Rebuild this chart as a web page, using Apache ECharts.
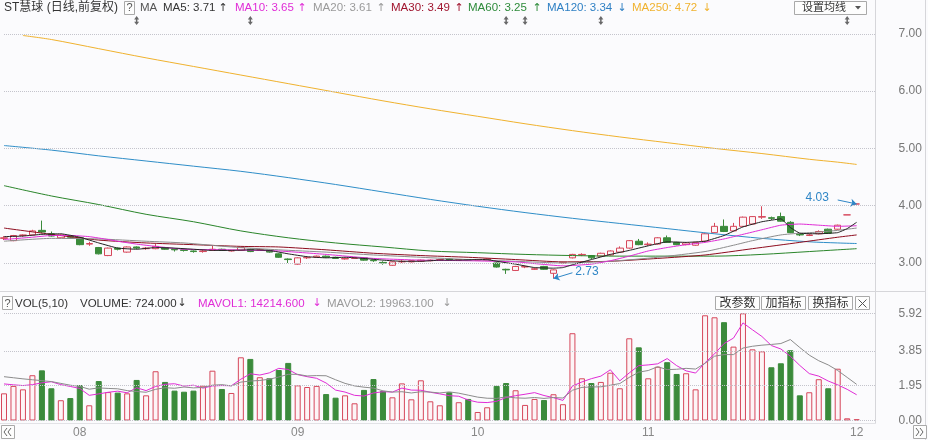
<!DOCTYPE html>
<html>
<head>
<meta charset="utf-8">
<script src="https://cdn.jsdelivr.net/npm/echarts@6/dist/echarts.min.js"></script>
<style>
  html, body { margin: 0; padding: 0; background: #fbfbfd; }
  #chart { width: 928px; height: 440px; }
</style>
</head>
<body>
<div id="chart"></div>
<script>
// ---- trading calendar (2018) ----
const tradingDays = {
  '2018-07': [20, 23, 24, 25, 26, 27, 30, 31],
  '2018-08': [1, 2, 3, 6, 7, 8, 9, 10, 13, 14, 15, 16, 17, 20, 21, 22, 23, 24, 27, 28, 29, 30, 31],
  '2018-09': [3, 4, 5, 6, 7, 10, 11, 12, 13, 14, 17, 18, 19, 20, 21, 25, 26, 27, 28],
  '2018-10': [8, 9, 10, 11, 12, 15, 16, 17, 18, 19, 22, 23, 24, 25, 26, 29, 30, 31],
  '2018-11': [1, 2, 5, 6, 7, 8, 9, 12, 13, 14, 15, 16, 19, 20, 21, 22, 23, 26, 27, 28, 29, 30],
  '2018-12': [3]
};

// ---- daily candles: [open, close, low, high] ----
const candles = [
  [3.43,3.44,3.40,3.47],[3.39,3.48,3.38,3.49],[3.48,3.49,3.46,3.50],[3.49,3.56,3.48,3.58],[3.57,3.54,3.52,3.74],
  [3.51,3.47,3.46,3.55],[3.44,3.49,3.43,3.50],[3.48,3.45,3.44,3.49],[3.44,3.32,3.31,3.45],[3.33,3.34,3.30,3.37],
  [3.27,3.16,3.15,3.28],[3.13,3.26,3.12,3.27],[3.26,3.24,3.22,3.27],[3.19,3.28,3.18,3.29],[3.28,3.26,3.24,3.29],
  [3.25,3.26,3.23,3.28],[3.25,3.29,3.24,3.33],[3.27,3.24,3.23,3.28],[3.24,3.23,3.20,3.25],[3.23,3.22,3.20,3.24],
  [3.21,3.20,3.18,3.22],[3.20,3.21,3.18,3.23],[3.22,3.24,3.21,3.30],[3.24,3.22,3.21,3.25],[3.21,3.22,3.20,3.23],
  [3.22,3.27,3.21,3.28],[3.24,3.20,3.19,3.25],[3.22,3.23,3.21,3.25],[3.22,3.19,3.18,3.23],[3.16,3.10,3.09,3.17],
  [3.07,3.06,3.00,3.08],[2.98,3.09,2.97,3.10],[3.09,3.10,3.07,3.12],[3.10,3.12,3.09,3.13],[3.12,3.10,3.09,3.13],
  [3.10,3.08,3.07,3.11],[3.07,3.08,3.06,3.09],[3.08,3.09,3.07,3.10],[3.09,3.05,3.04,3.10],[3.05,3.04,3.02,3.06],
  [3.01,3.00,2.97,3.03],[2.96,3.02,2.95,3.03],[3.02,3.03,3.00,3.05],[3.02,3.04,3.01,3.05],[3.03,3.05,3.02,3.06],
  [3.04,3.05,3.03,3.06],[3.05,3.06,3.04,3.07],[3.07,3.05,3.04,3.08],[3.05,3.06,3.04,3.07],[3.06,3.05,3.04,3.07],
  [3.05,3.06,3.04,3.07],[3.05,3.07,3.04,3.08],[3.00,2.93,2.92,3.01],[2.89,2.88,2.81,2.90],[2.87,2.94,2.86,2.95],
  [2.93,2.94,2.91,2.95],[2.89,2.90,2.88,2.92],[2.94,2.89,2.88,2.95],[2.82,2.88,2.73,2.89],[3.00,3.01,2.98,3.02],
  [3.09,3.15,3.08,3.16],[3.14,3.15,3.12,3.17],[3.13,3.09,3.07,3.14],[3.12,3.17,3.11,3.18],[3.14,3.21,3.13,3.22],
  [3.19,3.26,3.18,3.29],[3.26,3.39,3.25,3.40],[3.38,3.32,3.31,3.42],[3.32,3.33,3.30,3.36],[3.33,3.44,3.32,3.45],
  [3.44,3.36,3.35,3.48],[3.36,3.32,3.31,3.37],[3.32,3.35,3.31,3.36],[3.31,3.36,3.30,3.37],[3.38,3.51,3.37,3.52],
  [3.53,3.64,3.52,3.70],[3.64,3.55,3.54,3.76],[3.56,3.64,3.55,3.70],[3.64,3.80,3.63,3.81],[3.68,3.81,3.67,3.82],
  [3.80,3.81,3.77,3.99],[3.79,3.78,3.75,3.81],[3.81,3.73,3.72,3.88],[3.71,3.53,3.52,3.73],[3.50,3.49,3.47,3.51],
  [3.48,3.49,3.47,3.51],[3.51,3.55,3.50,3.57],[3.59,3.52,3.51,3.60],[3.59,3.66,3.58,3.67],[3.84,3.84,3.84,3.84],
  [4.03,4.03,4.03,4.03]
];

// ---- daily volume, in units of 10,000 lots ----
const volumes = [
  1.50,1.91,1.72,2.50,2.77,1.78,1.12,1.24,1.96,0.84,
  2.18,1.57,1.54,1.50,2.24,1.39,2.72,2.13,1.65,1.59,
  1.65,1.92,2.75,1.74,1.52,3.49,3.40,2.39,2.33,2.79,
  3.18,1.94,1.85,1.91,1.46,1.26,1.39,0.95,1.69,2.29,
  1.63,1.28,2.05,1.17,2.22,1.06,0.84,1.56,1.01,1.19,
  0.47,0.73,1.91,2.07,1.67,0.86,1.19,1.13,1.45,0.90,
  4.82,2.33,2.07,2.13,2.64,1.78,4.54,4.04,2.33,2.97,
  3.22,2.57,2.61,1.72,5.81,5.70,5.43,4.08,5.92,3.93,
  3.82,2.94,3.16,3.88,1.39,1.56,2.28,1.78,2.86,0.12,
  0.0724
];

// ---- volume moving averages (5 and 10 day) ----
const mavol1 = [
  2.02,1.97,1.93,1.98,2.08,2.14,1.98,1.88,1.77,1.39,
  1.47,1.56,1.62,1.53,1.81,1.65,1.88,2.00,2.03,1.90,
  1.95,1.79,1.91,1.93,1.92,2.28,2.58,2.51,2.63,2.88,
  2.82,2.53,2.42,2.33,2.07,1.68,1.57,1.39,1.35,1.52,
  1.59,1.57,1.79,1.68,1.67,1.56,1.47,1.37,1.34,1.13,
  1.01,0.99,1.06,1.27,1.37,1.45,1.54,1.38,1.26,1.11,
  1.90,2.13,2.31,2.45,2.80,2.19,2.63,3.03,3.07,3.13,
  3.42,3.03,2.74,2.62,3.19,3.68,4.25,4.55,5.39,5.01,
  4.64,4.14,3.95,3.55,3.04,2.59,2.45,2.18,1.97,1.72,
  1.42146
];
const mavol2 = [
  2.42,2.36,2.30,2.25,2.20,2.15,2.05,1.95,1.88,1.73,
  1.80,1.77,1.75,1.65,1.60,1.56,1.72,1.81,1.78,1.85,
  1.80,1.83,1.95,1.98,1.91,2.12,2.18,2.21,2.28,2.40,
  2.55,2.55,2.46,2.48,2.47,2.25,2.05,1.91,1.84,1.79,
  1.64,1.57,1.59,1.52,1.59,1.57,1.52,1.58,1.51,1.40,
  1.29,1.23,1.22,1.31,1.25,1.23,1.27,1.22,1.27,1.24,
  1.67,1.83,1.85,1.86,1.95,2.04,2.38,2.67,2.76,2.97,
  2.81,2.83,2.88,2.84,3.16,3.55,3.64,3.64,4.00,4.10,
  4.16,4.20,4.25,4.47,4.03,3.61,3.30,3.07,2.76,2.38,
  1.99631
];

// ---- price moving averages: [day index, value] ----
const ma5Pts = [[0,3.46],[2,3.47],[4,3.50],[6,3.51],[8,3.45],[10,3.35],[12,3.26],[14,3.24],[16,3.27],[18,3.26],
  [20,3.24],[22,3.22],[24,3.22],[26,3.23],[28,3.22],[30,3.16],[32,3.11],[34,3.09],[36,3.10],[38,3.08],
  [40,3.05],[42,3.03],[44,3.03],[46,3.05],[48,3.05],[50,3.06],[51,3.06],[52,3.03],[54,2.98],[56,2.92],
  [58,2.91],[59,2.92],[60,2.97],[62,3.06],[64,3.15],[66,3.22],[68,3.30],[70,3.37],[72,3.36],[74,3.38],
  [76,3.48],[78,3.63],[80,3.72],[82,3.77],[83,3.62],[84,3.52],[86,3.51],[88,3.53],[89,3.60],[90,3.71]];
const ma10Pts = [[0,3.41],[3,3.45],[5,3.48],[7,3.48],[9,3.46],[11,3.41],[12,3.38],[14,3.33],[16,3.29],[19,3.24],
  [24,3.23],[29,3.21],[34,3.15],[39,3.08],[44,3.05],[49,3.04],[54,3.02],[56,2.99],[59,2.95],[62,2.98],
  [64,3.04],[66,3.12],[68,3.21],[70,3.27],[72,3.32],[74,3.36],[76,3.42],[78,3.50],[80,3.58],[82,3.66],
  [84,3.68],[86,3.66],[88,3.64],[90,3.65]];
const ma20Pts = [[0,3.38],[5,3.43],[10,3.42],[15,3.38],[19,3.35],[24,3.28],[29,3.23],[34,3.19],[39,3.14],[44,3.10],
  [49,3.06],[54,3.03],[59,3.00],[64,3.03],[69,3.10],[74,3.20],[77,3.31],[79,3.39],[82,3.49],[84,3.52],
  [86,3.54],[88,3.57],[90,3.61]];
const ma30Pts = [[0,3.61],[5,3.50],[10,3.40],[15,3.35],[20,3.32],[25,3.29],[29,3.28],[34,3.23],[39,3.17],[44,3.13],
  [49,3.10],[54,3.06],[59,3.02],[64,3.03],[69,3.08],[74,3.14],[79,3.25],[84,3.36],[88,3.45],[90,3.49]];
const ma60Pts = [[0,4.35],[5,4.17],[10,4.02],[15,3.85],[20,3.72],[25,3.56],[30,3.44],[35,3.35],[40,3.28],[45,3.21],
  [50,3.18],[55,3.15],[60,3.13],[65,3.12],[70,3.12],[75,3.12],[80,3.15],[85,3.20],[88,3.23],[90,3.25]];
const ma120Pts = [[0,5.05],[5,4.97],[10,4.87],[15,4.78],[20,4.69],[25,4.60],[30,4.49],[35,4.37],[40,4.24],[45,4.11],
  [50,3.99],[55,3.88],[60,3.78],[65,3.69],[70,3.60],[75,3.51],[80,3.43],[85,3.37],[88,3.35],[90,3.34]];
const ma250Pts = [[2,6.97],[5,6.90],[10,6.74],[15,6.58],[20,6.43],[25,6.28],[30,6.13],[35,5.98],[40,5.83],[45,5.69],
  [50,5.56],[55,5.43],[60,5.31],[65,5.20],[70,5.10],[75,5.00],[80,4.91],[85,4.81],[88,4.76],[90,4.72]];

// ---- axis ticks ----
const priceTicks = [3, 4, 5, 6, 7];
const volumeTicks = [0, 1.95, 3.85, 5.92];

// ---- dates flagged with event markers ----
const eventDates = ['2018-08-09', '2018-08-27', '2018-10-11', '2018-10-15', '2018-10-25', '2018-11-30'];

// ---------------------------------------------------------------------
const FONT = '"Liberation Sans", "Noto Sans CJK SC", sans-serif';
const ARROW_FONT = '"DejaVu Sans", sans-serif';
const RISE = '#d6475b', RISE_FILL = '#fdf4f6', FALL = '#3b8b3b';

const dates = [];
Object.keys(tradingDays).forEach(m => tradingDays[m].forEach(d => dates.push(m + '-' + String(d).padStart(2, '0'))));
const categories = dates.concat(['pad-a', 'pad-b']);

const last = a => a[a.length - 1];
const prev = a => a[a.length - 2];
const lastVal = pts => last(pts)[1];
const trendOf = (a, b) => (a >= b ? '↑' : '↓');

// extremes of the visible range
let hiIdx = 0, loIdx = 0;
candles.forEach((c, i) => {
  if (c[3] > candles[hiIdx][3]) hiIdx = i;
  if (c[2] < candles[loIdx][2]) loIdx = i;
});
const hiVal = candles[hiIdx][3], loVal = candles[loIdx][2];

const chart = echarts.init(document.getElementById('chart'), null, { renderer: 'canvas' });

function maSeries(name, pts, color, smooth) {
  return {
    name, type: 'line', xAxisIndex: 0, yAxisIndex: 0, data: pts,
    symbol: 'none', smooth, z: 3, silent: true,
    lineStyle: { color, width: 1 }
  };
}

function gridLines(ticks) {
  return {
    silent: true, symbol: 'none', animation: false,
    lineStyle: { type: 'dotted', color: '#c4c4cc', width: 1 },
    label: {
      position: 'end', distance: 23, color: '#777', fontSize: 12, fontFamily: FONT,
      formatter: p => Number(p.value).toFixed(2)
    },
    data: ticks.map(v => ({ yAxis: v }))
  };
}

const arrowLabel = {
  color: '#2f86c6', fontSize: 12, fontFamily: FONT
};

// ---- interface decorations (legend rows, buttons, frame) ----
const ui = [];
function txt(x, y, text, color, opt = {}) {
  ui.push({
    type: 'text', x, y, silent: true,
    style: {
      text, fill: color,
      font: `${opt.size || 11.5}px ${opt.family || FONT}`,
      align: opt.align || 'left', verticalAlign: 'middle'
    }
  });
}
function box(x, y, w, h) {
  ui.push({ type: 'rect', silent: true, shape: { x, y, width: w, height: h },
    style: { fill: '#fdfdfd', stroke: '#a9a9a9', lineWidth: 1 } });
}
function line(x1, y1, x2, y2, color) {
  ui.push({ type: 'line', silent: true, shape: { x1, y1, x2, y2 }, style: { stroke: color, lineWidth: 1 } });
}

// frame
line(875.5, 0, 875.5, 424, '#d6d6da');
line(925.5, 0, 925.5, 440, '#d6d6da');
line(0, 291.5, 926, 291.5, '#d6d6da');
line(0, 423.5, 876, 423.5, '#e2e2e6');

// price legend row
const topY = 8;
txt(4, topY, 'ST慧球 (日线,前复权)', '#333', { size: 12 });
box(124.5, 1.5, 10, 13); txt(129.5, topY, '?', '#555', { align: 'center', size: 11 });
txt(140, topY, 'MA', '#555');
const maLegend = [
  { x: 163, ax: 223, name: 'MA5', pts: ma5Pts, color: '#333' },
  { x: 235, ax: 302, name: 'MA10', pts: ma10Pts, color: '#e02cd6' },
  { x: 313, ax: 381, name: 'MA20', pts: ma20Pts, color: '#9a9a9a' },
  { x: 391, ax: 459, name: 'MA30', pts: ma30Pts, color: '#a0142e' },
  { x: 468, ax: 537, name: 'MA60', pts: ma60Pts, color: '#2d8b3a' },
  { x: 547, ax: 622, name: 'MA120', pts: ma120Pts, color: '#2f80c4' },
  { x: 632, ax: 707, name: 'MA250', pts: ma250Pts, color: '#f0b22e' }
];
maLegend.forEach(m => {
  txt(m.x, topY, `${m.name}: ${lastVal(m.pts).toFixed(2)}`, m.color);
  txt(m.ax, topY, trendOf(last(m.pts)[1], prev(m.pts)[1]), m.color, { align: 'center', size: 11, family: ARROW_FONT });
});
box(794.5, 1.5, 72, 13);
txt(802, topY, '设置均线', '#333', { size: 11 });
ui.push({ type: 'polygon', silent: true, shape: { points: [[855, 6], [861, 6], [858, 9.5]] }, style: { fill: '#555' } });

// volume legend row
const volY = 303.5;
box(2.5, 296.5, 10, 13); txt(7.5, volY, '?', '#555', { align: 'center', size: 11 });
txt(15, volY, 'VOL(5,10)', '#333');
txt(80, volY, `VOLUME: ${(last(volumes) * 10000).toFixed(3)}`, '#333');
txt(182, volY, trendOf(last(volumes), prev(volumes)), '#333', { align: 'center', size: 11, family: ARROW_FONT });
txt(198, volY, `MAVOL1: ${(last(mavol1) * 10000).toFixed(3)}`, '#e02cd6');
txt(317, volY, trendOf(last(mavol1), prev(mavol1)), '#e02cd6', { align: 'center', size: 11, family: ARROW_FONT });
txt(327, volY, `MAVOL2: ${(last(mavol2) * 10000).toFixed(3)}`, '#9a9a9a');
txt(447, volY, trendOf(last(mavol2), prev(mavol2)), '#9a9a9a', { align: 'center', size: 11, family: ARROW_FONT });
[['改参数', 715.5], ['加指标', 761.5], ['换指标', 808.5]].forEach(([t, x]) => {
  box(x, 296.5, 44, 13);
  txt(x + 22, volY, t, '#333', { align: 'center', size: 12 });
});
box(855.5, 296.5, 14, 13);
line(858.5, 299.5, 866.5, 307.5, '#555');
line(866.5, 299.5, 858.5, 307.5, '#555');

// scroll buttons
box(1.5, 425.5, 13, 13);
ui.push({ type: 'polyline', silent: true, shape: { points: [[7, 428], [4, 432], [7, 436]] }, style: { stroke: '#666', fill: null } });
ui.push({ type: 'polyline', silent: true, shape: { points: [[11, 428], [8, 432], [11, 436]] }, style: { stroke: '#666', fill: null } });
box(913.5, 425.5, 13, 13);
ui.push({ type: 'polyline', silent: true, shape: { points: [[916, 428], [919, 432], [916, 436]] }, style: { stroke: '#666', fill: null } });
ui.push({ type: 'polyline', silent: true, shape: { points: [[920, 428], [923, 432], [920, 436]] }, style: { stroke: '#666', fill: null } });

// ---------------------------------------------------------------------
const option = {
  backgroundColor: '#fbfbfd',
  animation: false,
  textStyle: { fontFamily: FONT },
  grid: [
    { left: 4, top: 30, width: 871.6, height: 260 },
    { left: 4, top: 313.3, width: 871.6, height: 107.2 }
  ],
  xAxis: [
    { type: 'category', gridIndex: 0, data: categories, boundaryGap: false, show: false },
    {
      type: 'category', gridIndex: 1, data: categories, boundaryGap: false,
      axisLine: { show: false }, axisTick: { show: false }, splitLine: { show: false },
      axisLabel: {
        color: '#888', fontSize: 12, margin: 6, fontFamily: FONT,
        interval: (idx) => idx > 0 && idx < dates.length && dates[idx].slice(0, 7) !== dates[idx - 1].slice(0, 7),
        formatter: (v) => v.slice(5, 7)
      }
    }
  ],
  yAxis: [
    { type: 'value', gridIndex: 0, min: 2.529, max: 7.066, show: false, splitLine: { show: false } },
    { type: 'value', gridIndex: 1, min: 0, max: 5.92, show: false, splitLine: { show: false } }
  ],
  series: [
    {
      name: 'K', type: 'candlestick', xAxisIndex: 0, yAxisIndex: 0, data: candles,
      barWidth: 7, clip: false, silent: true, z: 2,
      itemStyle: { color: RISE_FILL, color0: FALL, borderColor: RISE, borderColor0: FALL, borderWidth: 1 },
      markLine: {
        silent: true, animation: false, symbol: ['none', 'arrow'], symbolSize: 6,
        lineStyle: { color: '#2f86c6', width: 1, type: 'solid' },
        data: [
          [
            { coord: [hiIdx - 1.65, hiVal + 0.07],
              label: Object.assign({ position: 'start', distance: 9, formatter: hiVal.toFixed(2) }, arrowLabel) },
            { coord: [hiIdx - 0.15, hiVal] }
          ],
          [
            { coord: [loIdx + 1.55, loVal + 0.10],
              label: Object.assign({ position: 'start', distance: 3, formatter: loVal.toFixed(2) }, arrowLabel) },
            { coord: [loIdx + 0.2, loVal] }
          ]
        ]
      }
    },
    Object.assign(maSeries('MA250', ma250Pts, '#f0b22e', 0.3), { markLine: gridLines(priceTicks) }),
    maSeries('MA120', ma120Pts, '#2f8ec8', 0.3),
    maSeries('MA60', ma60Pts, '#2a852a', 0.3),
    maSeries('MA30', ma30Pts, '#8e0c1e', 0.2),
    maSeries('MA20', ma20Pts, '#8c8c8c', 0.2),
    maSeries('MA10', ma10Pts, '#e02cd6', 0.15),
    maSeries('MA5', ma5Pts, '#222', 0.1),
    {
      name: 'events', type: 'scatter', xAxisIndex: 0, yAxisIndex: 0, clip: false, silent: true,
      symbol: 'path://M5,0 L10,4.5 L6.5,4.5 L6.5,7.5 L10,7.5 L5,12 L0,7.5 L3.5,7.5 L3.5,4.5 L0,4.5 Z',
      symbolSize: [5, 9],
      itemStyle: { color: '#444' },
      data: eventDates.map(d => [dates.indexOf(d), 7.23])
    },
    {
      name: 'VOL', type: 'bar', xAxisIndex: 1, yAxisIndex: 1, barWidth: 6, clip: false, silent: true,
      data: volumes.map((v, i) => {
        const up = candles[i][1] >= candles[i][0];
        return {
          value: v,
          itemStyle: up
            ? { color: RISE_FILL, borderColor: RISE, borderWidth: 1 }
            : { color: FALL, borderColor: FALL, borderWidth: 1 }
        };
      }),
      markLine: gridLines(volumeTicks)
    },
    {
      name: 'MAVOL1', type: 'line', xAxisIndex: 1, yAxisIndex: 1, data: mavol1,
      symbol: 'none', silent: true, z: 3, lineStyle: { color: '#e02cd6', width: 1 }
    },
    {
      name: 'MAVOL2', type: 'line', xAxisIndex: 1, yAxisIndex: 1, data: mavol2,
      symbol: 'none', silent: true, z: 3, lineStyle: { color: '#8c8c8c', width: 1 }
    }
  ],
  graphic: { elements: ui }
};

chart.setOption(option);
</script>
</body>
</html>
